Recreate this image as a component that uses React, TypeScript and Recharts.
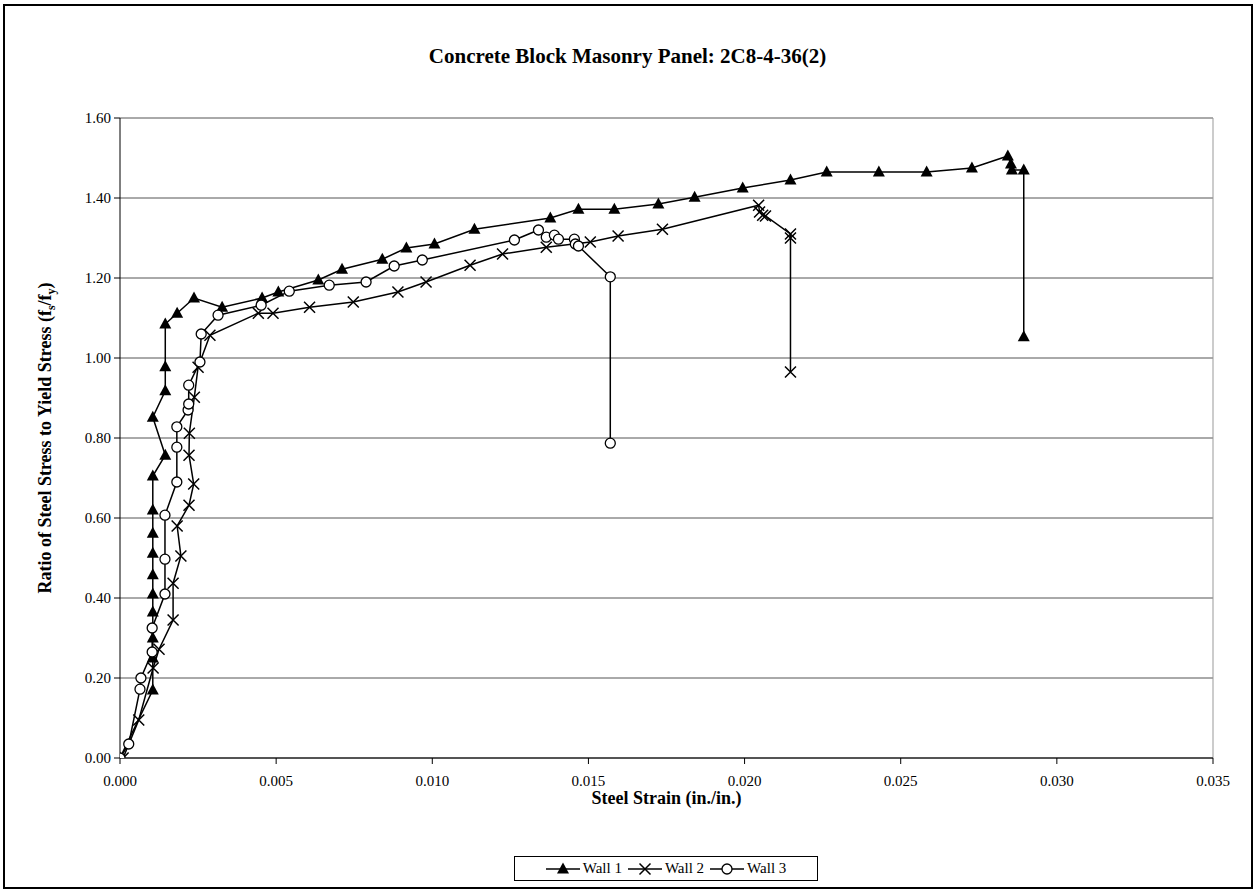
import React from "react";
import {
  ScatterChart,
  Scatter,
  XAxis,
  YAxis,
  CartesianGrid,
  ReferenceLine,
} from "recharts";

// strain (in./in.) and stress ratio (fs/fy), in test order
const wall1Strain = [
  0, 0.00105, 0.00105, 0.00105, 0.00105, 0.00105, 0.00105, 0.00105, 0.00105, 0.00105,
  0.00105, 0.00145, 0.00105, 0.00145, 0.00145, 0.00145, 0.00183, 0.00237, 0.00327, 0.00455,
  0.00507, 0.00635, 0.00711, 0.0084, 0.00917, 0.01007, 0.01135, 0.01378, 0.01468, 0.01583,
  0.01724, 0.0184, 0.01994, 0.02147, 0.02263, 0.0243, 0.02583, 0.02728, 0.02843, 0.02853,
  0.02856, 0.02894, 0.02894,
];
const wall1Ratio = [
  0, 0.17, 0.25, 0.3, 0.365, 0.41, 0.458, 0.512, 0.562, 0.62,
  0.705, 0.757, 0.852, 0.918, 0.978, 1.085, 1.112, 1.15, 1.127, 1.15,
  1.165, 1.195, 1.222, 1.247, 1.275, 1.285, 1.322, 1.35, 1.372, 1.372,
  1.385, 1.402, 1.425, 1.445, 1.465, 1.465, 1.465, 1.475, 1.505, 1.485,
  1.47, 1.47, 1.053,
];

const wall2Strain = [
  0.0001, 0.0006, 0.00106, 0.00125, 0.0017, 0.0017, 0.00195, 0.00183, 0.00221, 0.00236,
  0.00221, 0.00222, 0.00238, 0.0025, 0.00288, 0.00443, 0.0049, 0.00607, 0.00747, 0.0089,
  0.0098, 0.01121, 0.01225, 0.01365, 0.01506, 0.01595, 0.01737, 0.02045, 0.02048, 0.02058,
  0.02067, 0.02147, 0.02147, 0.02147,
];
const wall2Ratio = [
  0, 0.095, 0.225, 0.272, 0.345, 0.437, 0.505, 0.58, 0.632, 0.685,
  0.757, 0.812, 0.902, 0.977, 1.057, 1.112, 1.112, 1.127, 1.14, 1.165,
  1.19, 1.232, 1.26, 1.277, 1.29, 1.305, 1.322, 1.382, 1.365, 1.357,
  1.355, 1.31, 1.3, 0.965,
];

const wall3Strain = [
  0, 0.00028, 0.00064, 0.00067, 0.00103, 0.00103, 0.00144, 0.00144, 0.00144, 0.00182,
  0.00182, 0.00182, 0.00218, 0.0022, 0.0022, 0.00256, 0.0026, 0.00314, 0.00452, 0.00542,
  0.0067, 0.00788, 0.00878, 0.00968, 0.01263, 0.0134, 0.01365, 0.01391, 0.01404, 0.01455,
  0.01458, 0.01468, 0.0157, 0.0157,
];
const wall3Ratio = [
  0, 0.035, 0.172, 0.2, 0.265, 0.325, 0.41, 0.497, 0.607, 0.69,
  0.777, 0.828, 0.87, 0.885, 0.932, 0.99, 1.06, 1.107, 1.132, 1.167,
  1.182, 1.19, 1.23, 1.245, 1.295, 1.32, 1.302, 1.307, 1.297, 1.297,
  1.285, 1.28, 1.203, 0.787,
];

const xTicks = [0, 0.005, 0.01, 0.015, 0.02, 0.025, 0.03, 0.035];
const yTicks = [0, 0.2, 0.4, 0.6, 0.8, 1.0, 1.2, 1.4, 1.6];

const toPoints = (xs: number[], ys: number[]) => xs.map((x, i) => ({ x, y: ys[i] }));

const wall1 = toPoints(wall1Strain, wall1Ratio);
const wall2 = toPoints(wall2Strain, wall2Ratio);
const wall3 = toPoints(wall3Strain, wall3Ratio);

const FONT = "'Liberation Serif', 'Times New Roman', serif";

const Triangle = (props: any) => {
  const { cx, cy } = props;
  if (cx == null || cy == null) return null;
  return <path d={`M${cx},${cy - 6.5} L${cx + 6},${cy + 4.5} L${cx - 6},${cy + 4.5} Z`} fill="#000" />;
};

const Cross = (props: any) => {
  const { cx, cy } = props;
  if (cx == null || cy == null) return null;
  const s = 5.5;
  return (
    <path
      d={`M${cx - s},${cy - s} L${cx + s},${cy + s} M${cx - s},${cy + s} L${cx + s},${cy - s}`}
      stroke="#000"
      strokeWidth={1.5}
      fill="none"
    />
  );
};

const Ring = (props: any) => {
  const { cx, cy } = props;
  if (cx == null || cy == null) return null;
  return <circle cx={cx} cy={cy} r={5} fill="#fff" stroke="#000" strokeWidth={1.3} />;
};

const legendItems = [
  { name: "Wall 1", Shape: Triangle },
  { name: "Wall 2", Shape: Cross },
  { name: "Wall 3", Shape: Ring },
];

export default function App() {
  return (
    <div
      style={{
        position: "absolute",
        left: 0,
        top: 0,
        width: 1255,
        height: 892,
        background: "#fff",
        fontFamily: FONT,
      }}
    >
      <div
        style={{
          position: "absolute",
          left: 3,
          top: 4,
          width: 1246,
          height: 881,
          border: "2px solid #000",
        }}
      />
      <div
        style={{
          position: "absolute",
          left: 0,
          width: 1255,
          top: 44,
          textAlign: "center",
          fontWeight: "bold",
          fontSize: 21,
        }}
      >
        Concrete Block Masonry Panel: 2C8-4-36(2)
      </div>
      <div
        style={{
          position: "absolute",
          left: 47,
          top: 438,
          transform: "translate(-50%, -50%) rotate(-90deg)",
          whiteSpace: "nowrap",
          fontWeight: "bold",
          fontSize: 18,
        }}
      >
        Ratio of Steel Stress to Yield Stress (f<sub style={{ fontSize: 12 }}>s</sub>/f
        <sub style={{ fontSize: 12 }}>y</sub>)
      </div>
      <div
        style={{
          position: "absolute",
          left: 120,
          width: 1093,
          top: 788,
          textAlign: "center",
          fontWeight: "bold",
          fontSize: 18,
        }}
      >
        Steel Strain (in./in.)
      </div>
      <div
        style={{
          position: "absolute",
          left: 514,
          top: 856,
          width: 302,
          height: 23,
          border: "1px solid #000",
          display: "flex",
          alignItems: "center",
          justifyContent: "center",
          gap: 6,
          fontSize: 15,
        }}
      >
        {legendItems.map(({ name, Shape }) => (
          <span key={name} style={{ display: "flex", alignItems: "center", gap: 3 }}>
            <svg width={34} height={14}>
              <line x1={0} y1={7} x2={34} y2={7} stroke="#000" strokeWidth={1.5} />
              <Shape cx={17} cy={7} />
            </svg>
            {name}
          </span>
        ))}
      </div>
      <div style={{ position: "absolute", left: 0, top: 0 }}>
        <ScatterChart
          width={1255}
          height={892}
          margin={{ top: 118, right: 42, bottom: 104, left: 60 }}
        >
          <CartesianGrid vertical={false} stroke="#555" strokeWidth={1} />
          <XAxis
            type="number"
            dataKey="x"
            domain={[0, 0.035]}
            ticks={xTicks}
            tickFormatter={(v: number) => v.toFixed(3)}
            allowDataOverflow
            height={30}
            tickSize={6}
            tickMargin={11}
            stroke="#000"
            tick={{ fill: "#000", fontSize: 15, fontFamily: FONT }}
          />
          <YAxis
            type="number"
            dataKey="y"
            domain={[0, 1.6]}
            ticks={yTicks}
            tickFormatter={(v: number) => v.toFixed(2)}
            allowDataOverflow
            width={60}
            tickSize={6}
            tickMargin={3}
            stroke="#000"
            tick={{ fill: "#000", fontSize: 15, fontFamily: FONT }}
          />
          <ReferenceLine x={0.035} stroke="#999" />
          <Scatter
            name="Wall 1"
            data={wall1}
            line={{ stroke: "#000", strokeWidth: 1.5 }}
            lineType="joint"
            shape={Triangle}
            isAnimationActive={false}
          />
          <Scatter
            name="Wall 2"
            data={wall2}
            line={{ stroke: "#000", strokeWidth: 1.5 }}
            lineType="joint"
            shape={Cross}
            isAnimationActive={false}
          />
          <Scatter
            name="Wall 3"
            data={wall3}
            line={{ stroke: "#000", strokeWidth: 1.5 }}
            lineType="joint"
            shape={Ring}
            isAnimationActive={false}
          />
        </ScatterChart>
      </div>
    </div>
  );
}
